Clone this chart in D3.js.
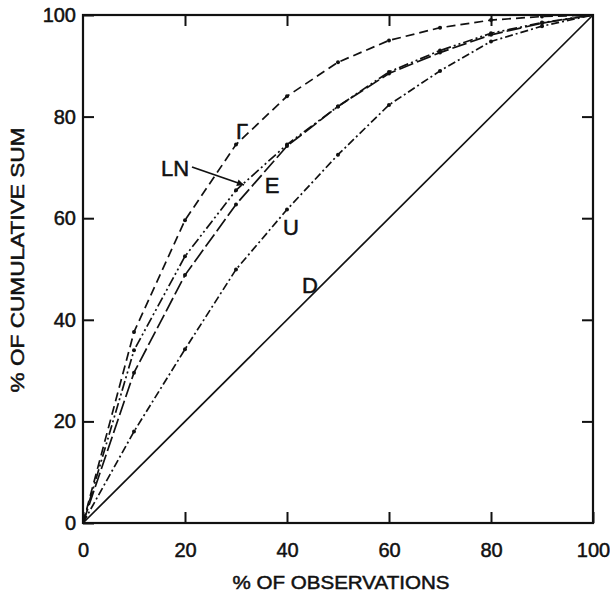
<!DOCTYPE html>
<html><head><meta charset="utf-8">
<script src="https://cdn.jsdelivr.net/npm/d3@7"></script>
<style>body{margin:0;background:#fff}svg{display:block}text{font-family:"Liberation Sans",Arial,sans-serif;fill:#111}</style>
</head><body><svg id="c" width="610" height="598"></svg>
<script>
const xValues = [0,10,20,30,40,50,60,70,80,90,100];
const gammaValues = [0,37.6,59.6,74.5,84,90.7,95,97.5,99,99.7,100];
const lnValues = [0,34,52.5,65.5,74.5,82,88.8,93,96.4,98.5,100];
const eValues = [0,29.6,48.8,62.7,74.2,82,88.5,92.6,96.1,98.4,100];
const uValues = [0,18,34.2,49.9,61.7,72.5,82.3,89,94.8,97.8,100];
const dX = [0,100];
const dValues = [0,100];
const tickValues = [0,20,40,60,80,100];
const xTitle = "% OF OBSERVATIONS";
const yTitle = "% OF CUMULATIVE SUM";

const svg = d3.select("#c");
const x = d3.scaleLinear().domain([0,100]).range([83,593]);
const y = d3.scaleLinear().domain([0,100]).range([523,15]);

const ink = "#111";
const g = svg.append("g");
g.append("rect").attr("x",x(0)).attr("y",y(100)).attr("width",x(100)-x(0)).attr("height",y(0)-y(100))
 .attr("fill","none").attr("stroke",ink).attr("stroke-width",2.2);

const tk = 11;
const axB = d3.axisBottom(x).tickValues(tickValues).tickSize(-tk).tickPadding(tk+9).tickFormat(d3.format("d"));
const axL = d3.axisLeft(y).tickValues(tickValues).tickSize(-tk).tickPadding(tk-4).tickFormat(d3.format("d"));
const axT = d3.axisTop(x).tickValues(tickValues.slice(1,5)).tickSize(-tk).tickFormat("");
const axR = d3.axisRight(y).tickValues(tickValues.slice(1,5)).tickSize(-tk).tickFormat("");
function style(sel){sel.select(".domain").remove();sel.selectAll(".tick line").attr("stroke",ink).attr("stroke-width",2);
  sel.selectAll(".tick text").style("font-size","20px").style("font-family","Liberation Sans, Arial, sans-serif").attr("fill",ink)
    .attr("stroke",ink).attr("stroke-width",0.5);}
g.append("g").attr("transform",`translate(0,${y(0)})`).call(axB).call(style);
g.append("g").attr("transform",`translate(${x(0)},0)`).call(axL).call(style);
g.append("g").attr("transform",`translate(0,${y(100)})`).call(axT).call(style);
g.append("g").attr("transform",`translate(${x(100)},0)`).call(axR).call(style);

svg.append("text").attr("x",341).attr("y",589).attr("text-anchor","middle")
  .style("font-size","19px").attr("stroke",ink).attr("stroke-width",0.5).attr("textLength",217).attr("lengthAdjust","spacingAndGlyphs").text(xTitle);
svg.append("text").attr("transform",`translate(24,260)rotate(-90)`).attr("text-anchor","middle")
  .style("font-size","19px").attr("stroke",ink).attr("stroke-width",0.5).attr("textLength",265).attr("lengthAdjust","spacingAndGlyphs").text(yTitle);

const series = [
  {vals:gammaValues, dash:"9,5"},
  {vals:lnValues, dash:"10,3,2,3,2,3"},
  {vals:eValues, dash:"15,4"},
  {vals:uValues, dash:"8,3,2,3"}
];
const line = d3.line().x(d=>x(d[0])).y(d=>y(d[1]));
series.forEach(s=>{
  const pts = xValues.map((v,i)=>[v,s.vals[i]]);
  svg.append("path").attr("d",line(pts)).attr("fill","none").attr("stroke",ink)
    .attr("stroke-width",1.7).attr("stroke-dasharray",s.dash);
  svg.selectAll(null).data(pts.slice(1,-1)).enter().append("circle")
    .attr("cx",d=>x(d[0])).attr("cy",d=>y(d[1])).attr("r",2).attr("fill",ink);
});
svg.append("path").attr("d",line(dX.map((v,i)=>[v,dValues[i]]))).attr("fill","none").attr("stroke",ink).attr("stroke-width",1.7);

const lab = (t,px,py)=>svg.append("text").attr("x",px).attr("y",py).attr("text-anchor","middle").style("font-size","22px")
  .attr("stroke",ink).attr("stroke-width",0.5).text(t);
lab("Γ",242,139);
lab("LN",175,176);
lab("E",272,193);
lab("U",291,235);
lab("D",310,293);
svg.append("defs").append("marker").attr("id","ah").attr("viewBox","0 0 10 10").attr("refX",10).attr("refY",5)
  .attr("markerWidth",11).attr("markerHeight",7).attr("markerUnits","userSpaceOnUse").attr("orient","auto")
  .append("path").attr("d","M0,0L10,5L0,10z").attr("fill",ink);
svg.append("line").attr("x1",192).attr("y1",167).attr("x2",244).attr("y2",185)
  .attr("stroke",ink).attr("stroke-width",1.8).attr("marker-end","url(#ah)");
</script></body></html>
